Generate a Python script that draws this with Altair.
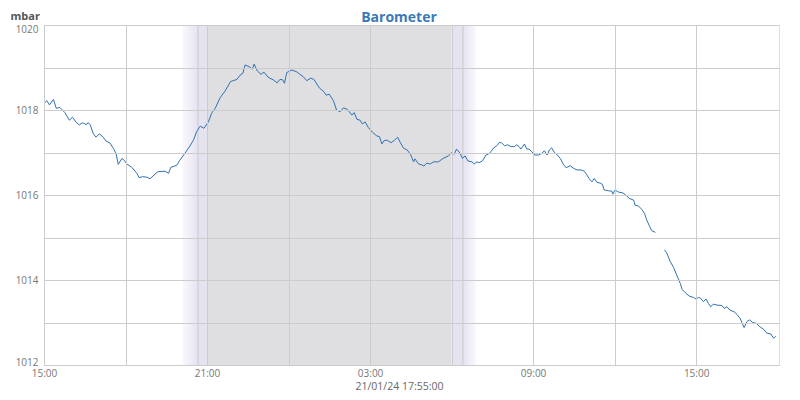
import altair as alt
import pandas as pd

# ---- data ----
START = "2024-01-20T15:00:00"
minutes = [2, 6, 12, 21, 27, 35, 46, 56, 63, 71, 78, 85, 93, 98, 102, 109, 115, 122, 130, 137,
           146, 153, 159, 164, 172, 177, 183, 194, 205, 210, 218, 227, 234, 245, 252, 267, 275, 280, 293, 300,
           311, 322, 330, 337, 345, 353, 363, 370, 378, 389, 400, 412, 426, 433, 439, 444, 453, 460, 464, 471,
           479, 486, 495, 506, 515, 521, 527, 531, 536, 547, 558, 565, 573, 580, 589, 596, 608, 618, 623, 630,
           639, 646, 654, 661, 669, 680, 685, 691, 698, 703, 709, 716, 726, 735, 741, 746, 751, 758, 766, 773,
           781, 786, 794, 802, 810, 816, 819, 827, 834, 839, 845, 853, 860, 871, 881, 893, 900, 906, 911, 919,
           924, 930, 936, 945, 950, 956, 961, 968, 976, 981, 987, 992, 1000, 1006, 1011, 1017, 1024, 1031, 1039, 1044,
           1049, 1053, 1061, 1066, 1071, 1077, 1084, 1092, 1099, 1105, 1111, 1116, 1121, 1127, 1132, 1140, 1147, 1153, 1162, 1169,
           1177, 1186, 1193, 1199, 1204, 1210, 1215, 1221, 1228, 1233, 1237, 1246, 1254, 1256, 1261, 1268, 1278, 1287, 1292, 1302,
           1305, 1313, 1320, 1326, 1331, 1337, 1342, 1350,
           1370, 1375, 1383, 1390, 1397, 1405, 1409, 1416, 1425, 1434, 1440, 1445, 1450, 1456, 1462, 1467, 1472, 1478, 1486, 1497,
           1502, 1508, 1515, 1524, 1530, 1537, 1541, 1546, 1552, 1558, 1565, 1573, 1581, 1589, 1596, 1605, 1611, 1616]
pressure = [1018.17, 1018.22, 1018.12, 1018.25, 1018.04, 1018.06, 1017.94, 1017.76, 1017.83, 1017.71,
            1017.65, 1017.70, 1017.66, 1017.70, 1017.65, 1017.44, 1017.36, 1017.44, 1017.37, 1017.27,
            1017.22, 1017.10, 1016.98, 1016.72, 1016.86, 1016.82, 1016.73, 1016.65, 1016.51, 1016.41,
            1016.43, 1016.42, 1016.38, 1016.49, 1016.55, 1016.56, 1016.51, 1016.65, 1016.70, 1016.82,
            1016.98, 1017.15, 1017.29, 1017.49, 1017.62, 1017.57, 1017.72, 1017.92, 1018.04, 1018.29,
            1018.45, 1018.67, 1018.72, 1018.82, 1018.86, 1019.06, 1019.02, 1018.96, 1019.08, 1018.92,
            1018.84, 1018.89, 1018.77, 1018.71, 1018.64, 1018.72, 1018.71, 1018.63, 1018.88, 1018.94,
            1018.90, 1018.84, 1018.78, 1018.69, 1018.75, 1018.72, 1018.52, 1018.43, 1018.35, 1018.37,
            1018.22, 1018.00, 1017.96, 1018.05, 1018.02, 1017.88, 1017.94, 1017.78, 1017.76, 1017.67,
            1017.72, 1017.59, 1017.47, 1017.39, 1017.37, 1017.20, 1017.28, 1017.29, 1017.23, 1017.28,
            1017.36, 1017.25, 1017.10, 1017.06, 1016.94, 1016.78, 1016.85, 1016.73, 1016.71, 1016.68,
            1016.75, 1016.73, 1016.78, 1016.78, 1016.86, 1016.92, 1017.00, 1016.96, 1017.08, 1016.98,
            1016.86, 1016.92, 1016.80, 1016.78, 1016.73, 1016.78, 1016.76, 1016.80, 1016.94, 1016.96,
            1017.02, 1017.10, 1017.16, 1017.24, 1017.22, 1017.16, 1017.18, 1017.14, 1017.14, 1017.18,
            1017.14, 1017.08, 1017.20, 1017.08, 1017.08, 1017.02, 1016.94, 1016.94, 1016.98, 1017.04,
            1016.94, 1017.06, 1017.11, 1017.00, 1016.96, 1016.86, 1016.72, 1016.64, 1016.69, 1016.63,
            1016.59, 1016.59, 1016.56, 1016.47, 1016.38, 1016.31, 1016.39, 1016.30, 1016.28, 1016.25,
            1016.12, 1016.10, 1016.09, 1016.02, 1016.12, 1016.07, 1016.05, 1015.98, 1015.92, 1015.88,
            1015.76, 1015.74, 1015.66, 1015.57, 1015.41, 1015.27, 1015.16, 1015.12,
            1014.71, 1014.64, 1014.43, 1014.30, 1014.12, 1013.92, 1013.78, 1013.70, 1013.62, 1013.59,
            1013.55, 1013.59, 1013.57, 1013.49, 1013.55, 1013.45, 1013.37, 1013.43, 1013.41, 1013.40,
            1013.33, 1013.37, 1013.29, 1013.25, 1013.19, 1013.10, 1013.00, 1012.88, 1013.02, 1013.06,
            1013.00, 1012.98, 1012.90, 1012.84, 1012.75, 1012.73, 1012.63, 1012.68]
segment = [0] * 188 + [1] * 38

# night / twilight shading (start, end)
fade_in = ["2024-01-20T20:05:00", "2024-01-20T20:40:00"]
twilight_pm = ["2024-01-20T20:40:00", "2024-01-20T21:00:00"]
night = ["2024-01-20T21:00:00", "2024-01-21T06:00:00"]
twilight_am = ["2024-01-21T06:00:00", "2024-01-21T06:25:00"]
fade_out = ["2024-01-21T06:25:00", "2024-01-21T06:55:00"]
edges = ["2024-01-20T20:40:00", "2024-01-21T06:25:00"]

title_text = ["Barometer"]
stamp_text = "21/01/24 17:55:00"
unit_text = "mbar"

x_domain = [alt.DateTime(year=2024, month=1, date=20, hours=15),
            alt.DateTime(year=2024, month=1, date=21, hours=18, minutes=3)]
x_ticks = [alt.DateTime(year=2024, month=1, date=20 + (15 + 3 * i) // 24, hours=(15 + 3 * i) % 24)
           for i in range(9)]
y_ticks = [1012, 1013, 1014, 1015, 1016, 1017, 1018, 1019, 1020]

BG = "#fbf9fe"
TWI = "#e4e3ef"
NIGHT = "#dfdfe1"
FONT = "Open Sans"

df = pd.DataFrame({
    "time": pd.Timestamp(START) + pd.to_timedelta(minutes, unit="m"),
    "mbar": pressure,
    "seg": segment,
})

xscale = alt.Scale(domain=x_domain)
yscale = alt.Scale(domain=[1012, 1020], nice=False)

def band(rng):
    return pd.DataFrame({"s": [pd.Timestamp(rng[0])], "e": [pd.Timestamp(rng[1])]})

def rect(rng, color):
    return alt.Chart(band(rng)).mark_rect(color=color).encode(
        x=alt.X("s:T", scale=xscale), x2="e:T")

grad_in = alt.Gradient(gradient="linear", x1=0, x2=1, y1=0, y2=0,
                       stops=[alt.GradientStop(color=BG, offset=0),
                              alt.GradientStop(color=TWI, offset=1)])
grad_out = alt.Gradient(gradient="linear", x1=0, x2=1, y1=0, y2=0,
                        stops=[alt.GradientStop(color=TWI, offset=0),
                               alt.GradientStop(color=BG, offset=1)])

shades = (rect(fade_in, grad_in) + rect(twilight_pm, TWI) + rect(night, NIGHT)
          + rect(twilight_am, TWI) + rect(fade_out, grad_out))

edge_rules = alt.Chart(pd.DataFrame({"t": pd.to_datetime(edges)})).mark_rule(
    color="#cdc9cc", strokeWidth=1).encode(x=alt.X("t:T", scale=xscale))

y_label_offset = {"condition": [{"test": "datum.value == 1020", "value": 4},
                                {"test": "datum.value == 1012", "value": -3}],
                  "value": 0}

line = alt.Chart(df).mark_line(color="#2f72b3", strokeWidth=1, interpolate="linear").encode(
    x=alt.X("time:T", scale=xscale,
            axis=alt.Axis(values=x_ticks, grid=True, gridColor="#cccccc", tickSize=0,
                          domain=False, labelPadding=3, labelFontSize=10, labelColor="#777777",
                          labelFont=FONT, labelFlush=False, labelOverlap=False, zindex=1,
                          labelExpr="(hours(datum.value) % 6 == 3) ? timeFormat(datum.value, '%H:%M') : ''",
                          title=stamp_text, titleFont=FONT, titleFontSize=10.5,
                          titleFontWeight="normal", titleColor="#666666",
                          titleX=355, titleY=24.3, titleAlign="center", titleBaseline="alphabetic")),
    y=alt.Y("mbar:Q", scale=yscale,
            axis=alt.Axis(values=y_ticks, grid=True, gridColor="#cccccc", tickSize=0,
                          domain=False, labelPadding=6, labelFontSize=10, labelColor="#777777",
                          labelFont=FONT, labelFlush=False, labelOverlap=False, zindex=1,
                          labelOffset=y_label_offset,
                          labelExpr="(datum.value % 2 == 0) ? format(datum.value, 'd') : ''",
                          title=unit_text, titleAngle=0, titleX=-34, titleY=-6,
                          titleAlign="left", titleBaseline="alphabetic", titleFont=FONT,
                          titleFontSize=11, titleFontWeight="bold", titleColor="#555555")),
    detail="seg:N",
)

title_mark = alt.Chart(pd.DataFrame({"t": title_text})).mark_text(
    font=FONT, fontSize=14, fontWeight="bold", color="#3b7ab7",
    align="center", baseline="alphabetic").encode(
    text="t:N", x=alt.value(355), y=alt.value(-3))

chart = alt.layer(shades, edge_rules, line, title_mark).properties(
    width=735, height=340,
    autosize=alt.AutoSizeParams(type="none"),
    padding={"left": 36, "top": 17, "right": 13, "bottom": 27},
).configure_view(fill=BG, stroke="#cccccc", strokeWidth=1).configure(background="white")

chart.save("out.html", embed_options={"renderer": "svg", "actions": False})
